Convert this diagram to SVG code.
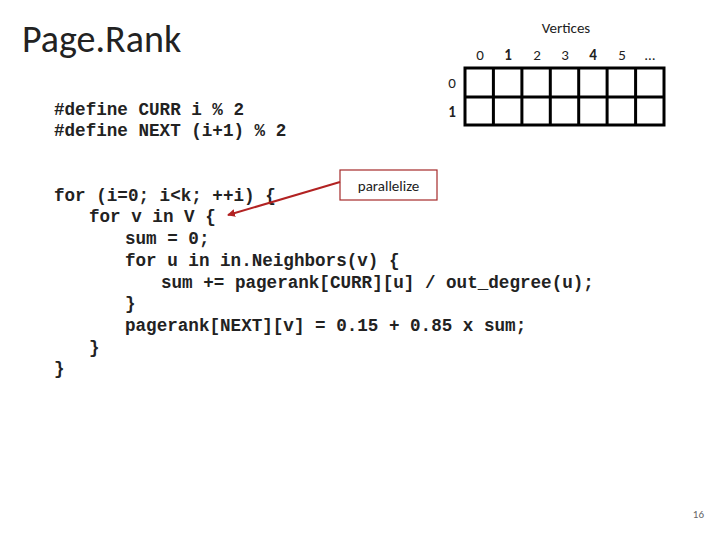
<svg xmlns="http://www.w3.org/2000/svg" width="720" height="540" viewBox="0 0 720 540">
<style>
.c{font-family:"Liberation Mono","Courier New",monospace;font-size:17.6px;font-weight:bold;fill:#222}
.s{font-family:Calibri,"Carlito","Liberation Sans",sans-serif;font-size:15px;fill:#222}
.g{fill:#fff;stroke:#000;stroke-width:3}
</style>
<defs><marker id="ar" markerWidth="8" markerHeight="8" refX="7" refY="4" orient="auto" markerUnits="userSpaceOnUse"><path d="M0,0L8,4L0,8z" fill="#b22222"/></marker></defs>
<rect width="720" height="540" fill="#fff"/>
<text x="22" y="52" font-family="Calibri,Carlito,'Liberation Sans',sans-serif" font-size="38" fill="#222">Page.Rank</text>
<g id="grid">
<text class="s" x="566" y="33" text-anchor="middle">Vertices</text>
<g class="s" text-anchor="middle">
<text x="480" y="60">0</text><text x="508" y="60" font-weight="bold">1</text><text x="537" y="60">2</text><text x="565" y="60">3</text><text x="593" y="60" font-weight="bold">4</text><text x="622" y="60">5</text><text x="650" y="60">…</text>
<text x="452" y="88">0</text><text x="452" y="117" font-weight="bold">1</text>
</g>
<rect class="g" x="465" y="68" width="199" height="57"/>
<path d="M465,97H664M493.4,68V125M521.9,68V125M550.3,68V125M578.7,68V125M607.1,68V125M635.6,68V125" stroke="#000" stroke-width="3" fill="none"/>
</g>
<g id="code">
<text class="c" x="54" y="115">#define CURR i % 2</text>
<text class="c" x="54" y="136">#define NEXT (i+1) % 2</text>
<text class="c" x="54" y="201">for (i=0; i&lt;k; ++i) {</text>
<text class="c" x="89" y="222">for v in V {</text>
<text class="c" x="125" y="244">sum = 0;</text>
<text class="c" x="125" y="266">for u in in.Neighbors(v) {</text>
<text class="c" x="161" y="288">sum += pagerank[CURR][u] / out_degree(u);</text>
<text class="c" x="125" y="309">}</text>
<text class="c" x="125" y="331">pagerank[NEXT][v] = 0.15 + 0.85 x sum;</text>
<text class="c" x="89" y="353">}</text>
<text class="c" x="54" y="374">}</text>
</g>
<g id="callout">
<rect x="340" y="170" width="97" height="30" fill="#fff" stroke="#a52a2a" stroke-width="1.2"/>
<text class="s" x="388.5" y="191" text-anchor="middle" font-size="18">parallelize</text>
</g>
<g id="connectors">
<path d="M340,182L228,215" stroke="#b22222" stroke-width="2" fill="none" marker-end="url(#ar)"/>
</g>
<text x="704" y="518" text-anchor="end" font-family="Calibri,Carlito,'Liberation Sans',sans-serif" font-size="11" fill="#666">16</text>
</svg>
